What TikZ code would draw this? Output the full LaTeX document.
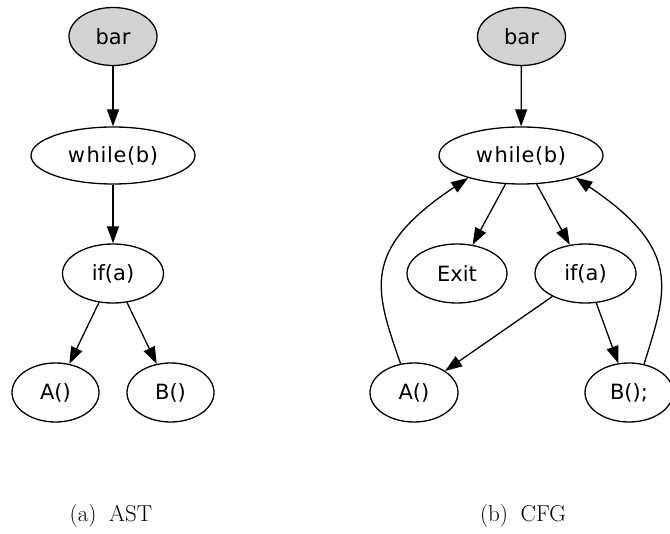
\documentclass[tikz,border=0pt]{standalone}
\usepackage{fontspec}
\newfontfamily\nodefont{DejaVu Sans}
\usetikzlibrary{shapes.geometric,arrows.meta}
\definecolor{rootgray}{RGB}{211,211,211}
\newcommand{\loopword}{w\kern1.5pt{\addfontfeature{LetterSpace=3}hile(b)}}
\begin{document}
\begin{tikzpicture}[x=1pt,y=-1pt,
  every node/.style={inner sep=0pt},
  gnode/.style={ellipse,draw=black,line width=1.3pt,font=\nodefont\fontsize{21}{21}\selectfont},
  gsize/.style 2 args={minimum width=#1pt,minimum height=#2pt},
  root/.style={gnode,fill=rootgray,gsize={88}{58}},
  arr/.style={line width=1.3pt,-{Triangle[length=17pt,width=12pt]}},
  subcap/.style={font=\fontsize{23}{27}\selectfont,anchor=base}]
\useasboundingbox (0,0) rectangle (670,534);

% (a) abstract syntax tree
\node[root] (barL) at (113,36.5) {bar};
\node[gnode,gsize={164}{57}] (whileL) at (113,155.5) {\loopword};
\node[gnode,gsize={101}{59}] (ifL) at (113,273.5) {if(a)};
\node[gnode,gsize={87}{59}] (AL) at (55.5,392.5) {A()};
\node[gnode,gsize={87}{59}] (BL) at (170.5,392.5) {B()};

\draw[arr] (barL) -- (whileL);
\draw[arr] (whileL) -- (ifL);
\draw[arr] (ifL) -- (AL);
\draw[arr] (ifL) -- (BL);

% (b) control flow graph
\node[root] (barR) at (521.5,36.5) {bar};
\node[gnode,gsize={164}{57}] (whileR) at (521,155.5) {\loopword};
\node[gnode,gsize={100}{59}] (exitR) at (457,273.5) {Exit};
\node[gnode,gsize={101}{59}] (ifR) at (585.5,273.5) {if(a)};
\node[gnode,gsize={88}{59}] (AR) at (414,392.5) {A()};
\node[gnode,gsize={88}{59}] (BR) at (629,392.5) {B();};

\draw[arr] (barR) -- (whileR);
\draw[arr] (whileR) -- (exitR);
\draw[arr] (whileR) -- (ifR);
\draw[arr] (ifR) -- (AR);
\draw[arr] (ifR) -- (BR);
\draw[arr] (AR.115) .. controls (375,290) and (360,250) .. (whileR.-157);
\draw[arr] (BR.62) .. controls (667,290) and (683,250) .. (whileR.-22);

% sub-figure captions
\node[subcap] (capA) at (111,522) {(a)\hspace{0.55em}AST};
\node[subcap] (capB) at (523,522) {(b)\hspace{0.55em}CFG};
\end{tikzpicture}
\end{document}
